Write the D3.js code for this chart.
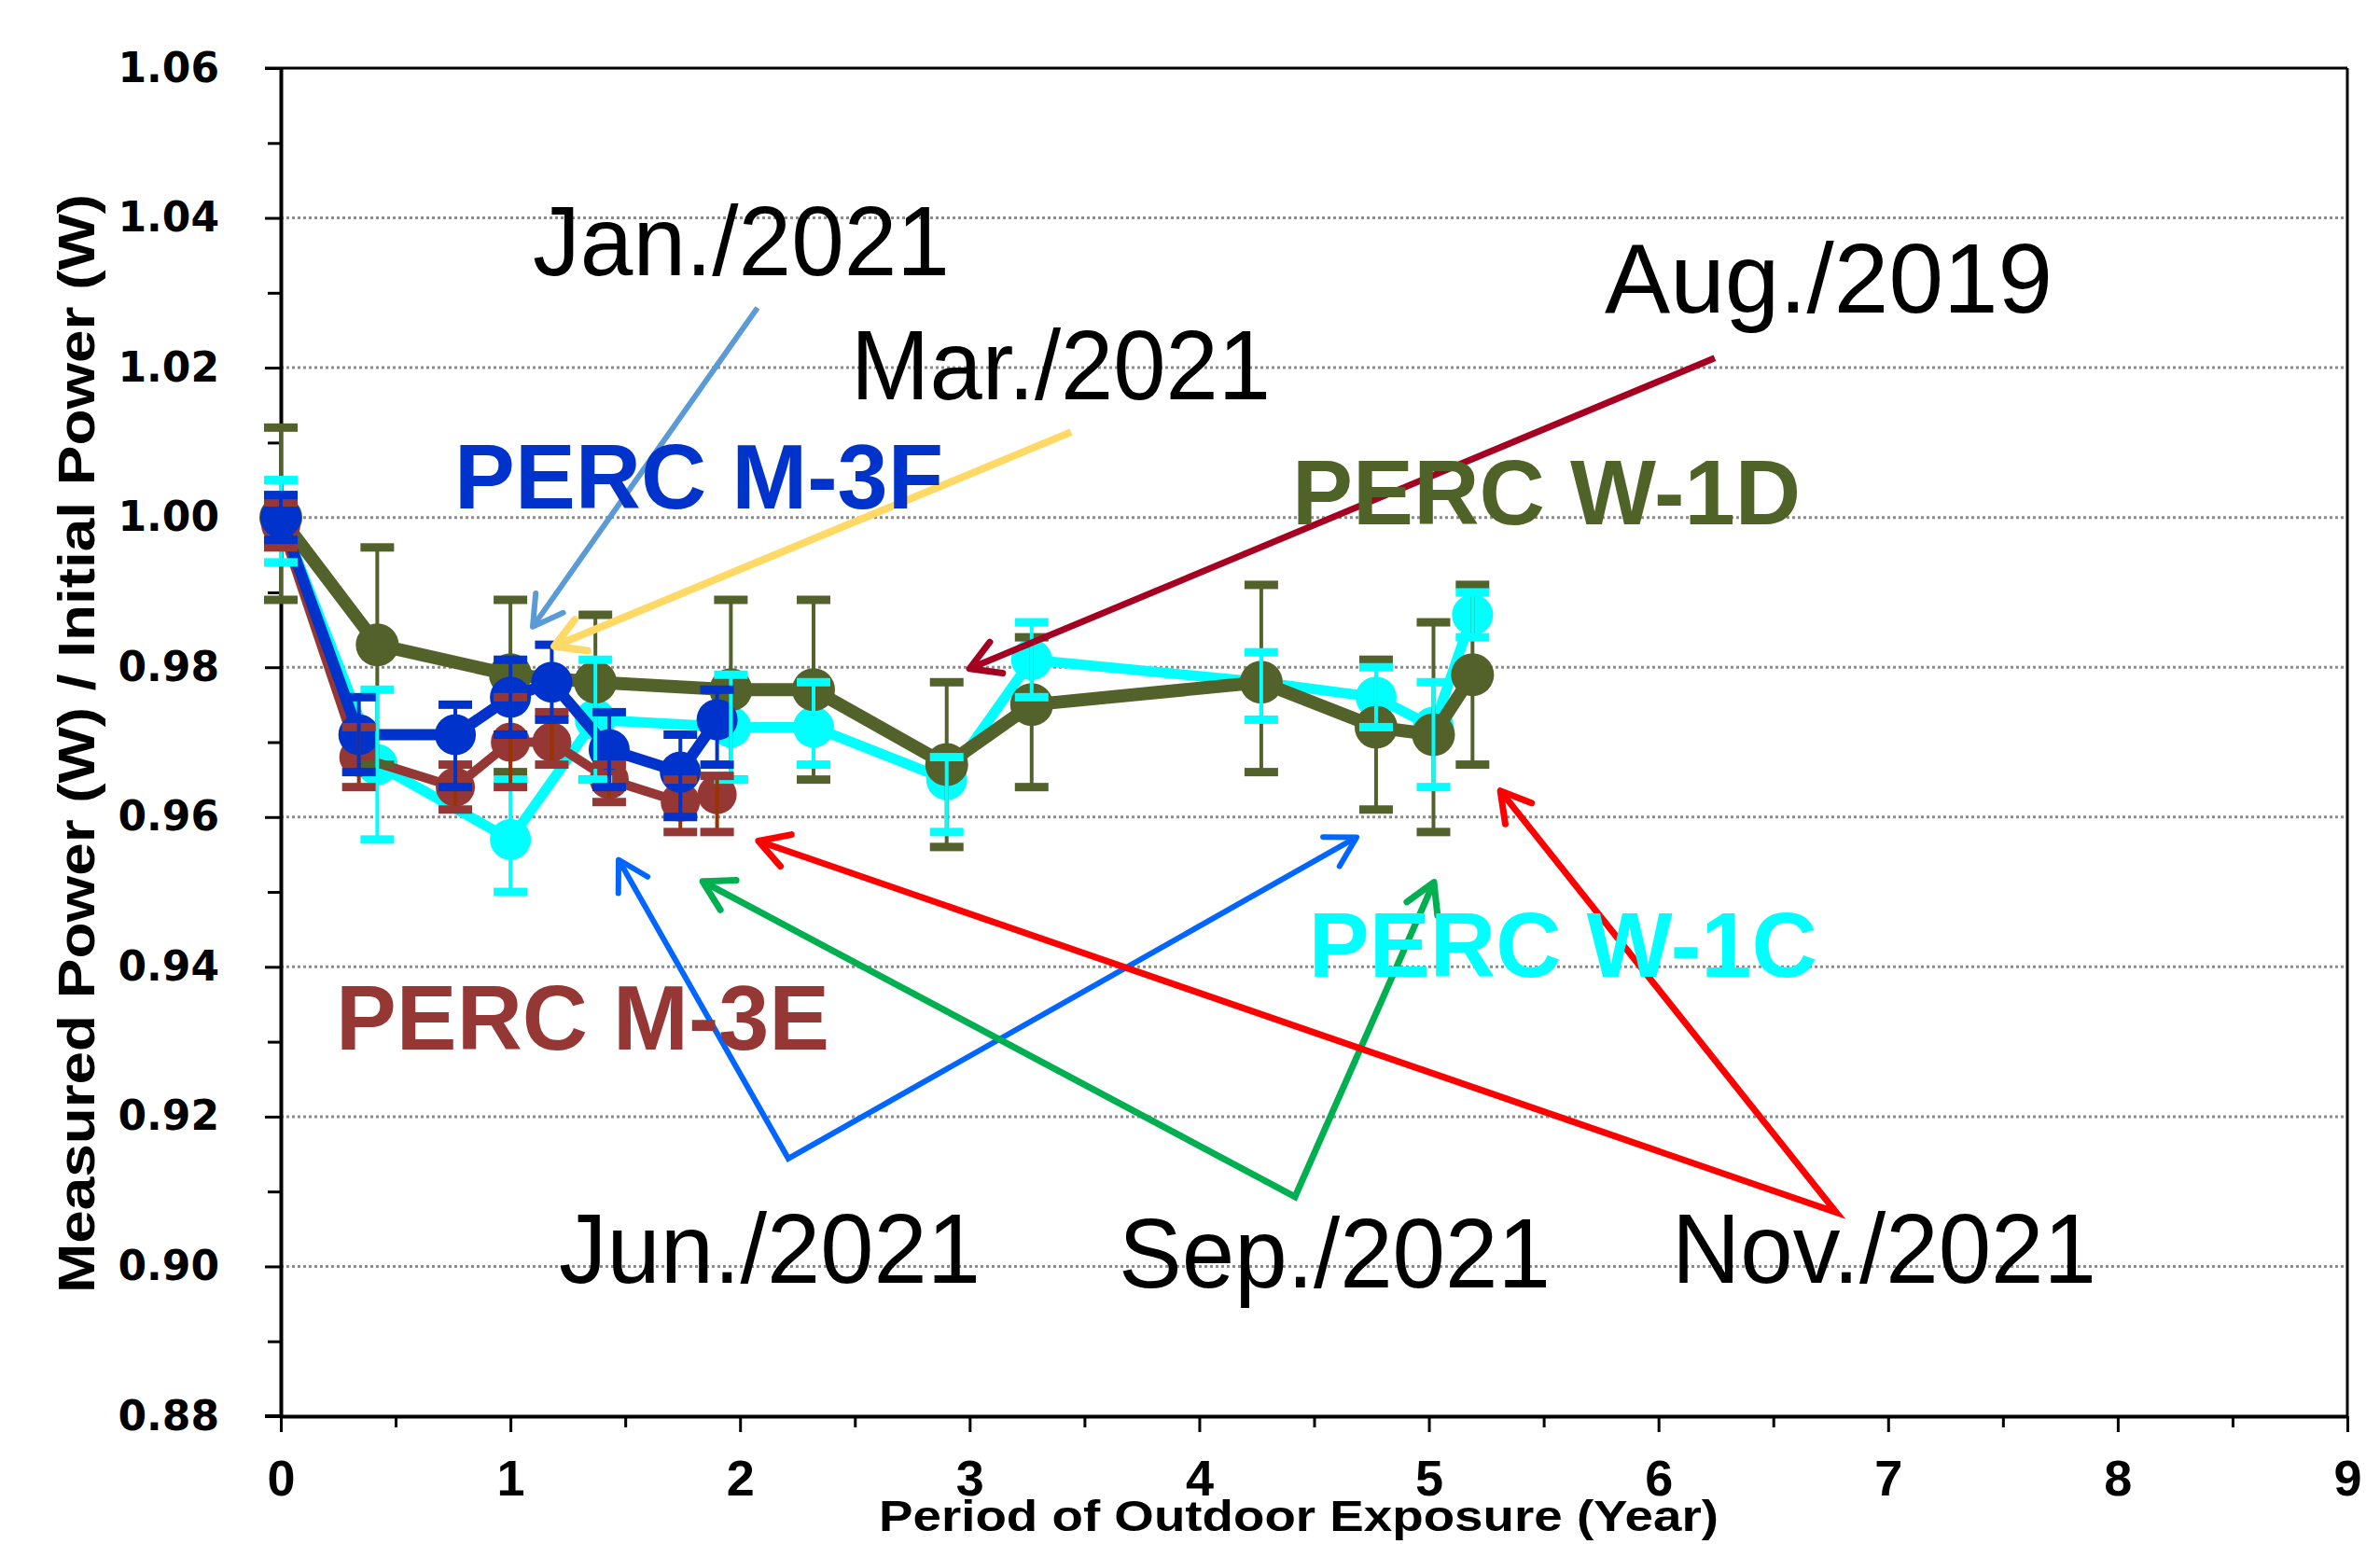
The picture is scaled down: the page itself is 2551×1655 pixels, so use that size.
<!DOCTYPE html>
<html>
<head>
<meta charset="utf-8">
<script src="https://cdn.jsdelivr.net/npm/d3@7"></script>
<style>
  body { margin: 0; background: #fff; }
  svg { display: block; }
</style>
</head>
<body>
<svg class="chart"></svg>
<script>
// exposure time in years
var xW = [0, 0.42, 1.0, 1.37, 1.96, 2.32, 2.9, 3.27, 4.27, 4.77, 5.02, 5.19];
var xM = [0, 0.34, 0.76, 1.0, 1.18, 1.43, 1.74, 1.90];

// PERC W-1D (olive)
var w1d   = [1.000, 0.983, 0.979, 0.978, 0.977, 0.977, 0.967, 0.975, 0.978, 0.972, 0.971, 0.979];
var w1dUp = [0.012, 0.013, 0.010, 0.009, 0.012, 0.012, 0.011, 0.009, 0.013, 0.009, 0.015, 0.012];
var w1dDn = [0.011, 0.016, 0.013, 0.013, 0.012, 0.012, 0.011, 0.011, 0.012, 0.011, 0.013, 0.012];

// PERC W-1C (cyan)
var w1c   = [1.000, 0.967, 0.957, 0.973, 0.972, 0.972, 0.965, 0.981, 0.978, 0.976, 0.972, 0.987];
var w1cUp = [0.005, 0.010, 0.008, 0.008, 0.007, 0.006, 0.003, 0.005, 0.004, 0.004, 0.006, 0.003];
var w1cDn = [0.006, 0.010, 0.007, 0.008, 0.007, 0.005, 0.007, 0.005, 0.005, 0.004, 0.008, 0.003];

// PERC M-3F (blue)
var m3f   = [1.000, 0.971, 0.971, 0.976, 0.978, 0.969, 0.966, 0.973];
var m3fUp = [0.003, 0.005, 0.004, 0.005, 0.005, 0.005, 0.005, 0.004];
var m3fDn = [0.003, 0.005, 0.007, 0.005, 0.005, 0.005, 0.006, 0.006];

// PERC M-3E (brown)
var m3e   = [0.999, 0.968, 0.964, 0.970, 0.970, 0.965, 0.962, 0.963];
var m3eUp = [0.003, 0.004, 0.003, 0.006, 0.004, 0.002, 0.003, 0.0025];
var m3eDn = [0.003, 0.004, 0.003, 0.006, 0.003, 0.003, 0.004, 0.005];

var yTicks = [0.88, 0.90, 0.92, 0.94, 0.96, 0.98, 1.00, 1.02, 1.04, 1.06];
var yMinor = [0.89, 0.91, 0.93, 0.95, 0.97, 0.99, 1.01, 1.03, 1.05];
var xTicks = [0, 1, 2, 3, 4, 5, 6, 7, 8, 9];
var xMinor = [0.5, 1.5, 2.5, 3.5, 4.5, 5.5, 6.5, 7.5, 8.5];

var series = {
  w1c: { x: xW, y: w1c, up: w1cUp, dn: w1cDn, color: '#00FFFF', bar: '#00FFFF', lw: 11, r: 22 },
  w1d: { x: xW, y: w1d, up: w1dUp, dn: w1dDn, color: '#53612A', bar: '#53612A', lw: 14, r: 23 },
  m3e: { x: xM, y: m3e, up: m3eUp, dn: m3eDn, color: '#953735', bar: '#993300', cap: '#953735', lw: 10, r: 21 },
  m3f: { x: xM, y: m3f, up: m3fUp, dn: m3fDn, color: '#0033CC', bar: '#0033CC', lw: 12, r: 22 }
};

var margin = {top: 73, right: 35, bottom: 137, left: 301}
  , W = 2551, H = 1655
  , width = W - margin.left - margin.right
  , height = H - margin.top - margin.bottom;

var x = d3.scaleLinear().domain([0, 9]).range([0, width]);
var y = d3.scaleLinear().domain([0.88, 1.06]).range([height, 0]);

var chart = d3.select('.chart').attr('width', W).attr('height', H);
chart.append('rect').attr('width', W).attr('height', H).attr('fill', '#fff');

var main = chart.append('g')
  .attr('transform', 'translate(' + margin.left + ',' + margin.top + ')');

// dotted grid
main.selectAll('.grid')
  .data(yTicks.filter(function (d) { return d > 0.89 && d < 1.05; }))
  .enter().append('line')
  .attr('x1', 0).attr('x2', width)
  .attr('y1', function (d) { return y(d); })
  .attr('y2', function (d) { return y(d); })
  .attr('stroke', '#8c8c8c')
  .attr('stroke-width', 3)
  .attr('stroke-dasharray', '3,3');

// frame top + right
main.append('line').attr('x1', -17).attr('x2', width).attr('y1', 0).attr('y2', 0)
  .attr('stroke', '#000').attr('stroke-width', 3);
main.append('line').attr('x1', width).attr('x2', width).attr('y1', 0).attr('y2', height)
  .attr('stroke', '#000').attr('stroke-width', 3);

// axes
var yAxis = d3.axisLeft(y).tickValues(yTicks).tickSize(17).tickSizeOuter(0)
  .tickPadding(49).tickFormat(d3.format('.2f'));
var gy = main.append('g').call(yAxis);
gy.selectAll('text').attr('font-family', '"DejaVu Sans", sans-serif')
  .attr('font-weight', 'bold').attr('font-size', 44).attr('fill', '#000');

main.append('g').call(d3.axisLeft(y).tickValues(yMinor).tickSize(14).tickFormat(''))
  .select('.domain').remove();

var xAxis = d3.axisBottom(x).tickValues(xTicks).tickSize(17).tickSizeOuter(0).tickPadding(30);
var gx = main.append('g').attr('transform', 'translate(0,' + height + ')').call(xAxis);
gx.selectAll('text').attr('font-family', '"Liberation Sans", Arial, sans-serif')
  .attr('font-weight', 'bold').attr('font-size', 54).attr('fill', '#000');

main.append('g').attr('transform', 'translate(0,' + height + ')')
  .call(d3.axisBottom(x).tickValues(xMinor).tickSize(12).tickFormat(''))
  .select('.domain').remove();

main.append('line').attr('x1', -17).attr('x2', 0).attr('y1', height).attr('y2', height)
  .attr('stroke', '#000').attr('stroke-width', 4);

main.selectAll('.domain').attr('stroke', '#000').attr('stroke-width', 4);
main.selectAll('.tick line').attr('stroke', '#000').attr('stroke-width', 3);

// axis titles
chart.append('text')
  .attr('transform', 'translate(101,797) rotate(-90)')
  .attr('text-anchor', 'middle')
  .attr('font-family', '"Liberation Sans Narrow", "Liberation Sans", Arial, sans-serif')
  .attr('font-weight', 'bold').attr('font-size', 56)
  .attr('textLength', 1178).attr('lengthAdjust', 'spacingAndGlyphs')
  .text('Measured Power (W) / Initial Power (W)');

chart.append('text')
  .attr('x', 1392).attr('y', 1641)
  .attr('text-anchor', 'middle')
  .attr('font-family', '"Liberation Sans Narrow", "Liberation Sans", Arial, sans-serif')
  .attr('font-weight', 'bold').attr('font-size', 46)
  .attr('textLength', 900).attr('lengthAdjust', 'spacingAndGlyphs')
  .text('Period of Outdoor Exposure (Year)');

// lines and markers
var line = d3.line()
  .x(function (d) { return x(d[0]); })
  .y(function (d) { return y(d[1]); });

['w1c', 'w1d', 'm3e', 'm3f'].forEach(function (k) {
  var s = series[k];
  var pts = s.x.map(function (v, i) { return [v, s.y[i]]; });
  var g = main.append('g');
  g.append('path').datum(pts)
    .attr('d', line)
    .attr('fill', 'none')
    .attr('stroke', s.color)
    .attr('stroke-width', s.lw)
    .attr('stroke-linejoin', 'round');
  g.selectAll('circle').data(pts).enter().append('circle')
    .attr('cx', function (d) { return x(d[0]); })
    .attr('cy', function (d) { return y(d[1]); })
    .attr('r', s.r)
    .attr('fill', s.color);
});

// error bars on top
['w1d', 'w1c', 'm3e', 'm3f'].forEach(function (k) {
  var s = series[k];
  var g = main.append('g');
  s.x.forEach(function (v, i) {
    var cx = x(v), hi = y(s.y[i] + s.up[i]), lo = y(s.y[i] - s.dn[i]);
    g.append('line').attr('x1', cx).attr('x2', cx).attr('y1', hi).attr('y2', lo)
      .attr('stroke', s.bar).attr('stroke-width', 4);
    [hi, lo].forEach(function (yy) {
      g.append('rect').attr('x', cx - 18).attr('y', yy - 4.5)
        .attr('width', 36).attr('height', 9)
        .attr('fill', s.cap || s.bar);
    });
  });
});

// annotations (positions in data units)
var labels = [
  { t: 'Jan./2021', x: 1.097, y: 1.0324, c: '#000', b: false, len: 447 },
  { t: 'Mar./2021', x: 2.483, y: 1.0158, c: '#000', b: false, len: 450 },
  { t: 'Aug./2019', x: 5.766, y: 1.0274, c: '#000', b: false, len: 480 },
  { t: 'Jun./2021', x: 1.211, y: 0.8978, c: '#000', b: false, len: 452 },
  { t: 'Sep./2021', x: 3.649, y: 0.8972, c: '#000', b: false, len: 463 },
  { t: 'Nov./2021', x: 6.058, y: 0.8978, c: '#000', b: false, len: 455 },
  { t: 'PERC M-3F', x: 0.756, y: 1.0012, c: '#0033CC', b: true, len: 524 },
  { t: 'PERC W-1D', x: 4.405, y: 0.9991, c: '#4F6228', b: true, len: 545 },
  { t: 'PERC M-3E', x: 0.240, y: 0.9290, c: '#953735', b: true, len: 529 },
  { t: 'PERC W-1C', x: 4.477, y: 0.9387, c: '#00FFFF', b: true, len: 545 }
];

var arrows = [
  { c: '#5B9BD5', w: 6, pts: [[2.076, 1.0280], [1.097, 0.9854]], heads: [1] },
  { c: '#FFD966', w: 8, pts: [[3.442, 1.0114], [1.191, 0.9828]], heads: [1] },
  { c: '#A50021', w: 7, pts: [[6.245, 1.0213], [2.999, 0.9798]], heads: [1] },
  { c: '#0066FF', w: 6, pts: [[1.471, 0.9543], [2.210, 0.9144], [4.685, 0.9573]], heads: [0, 2] },
  { c: '#00B050', w: 7, pts: [[1.837, 0.9514], [4.417, 0.9093], [5.022, 0.9513]], heads: [0, 2] },
  { c: '#FF0000', w: 7, pts: [[2.080, 0.9568], [6.774, 0.9072], [5.311, 0.9635]], heads: [0, 2] }
];

var ann = main.append('g');

arrows.forEach(function (a) {
  var p = a.pts.map(function (d) { return [x(d[0]), y(d[1])]; });
  ann.append('path')
    .attr('d', d3.line()(p))
    .attr('fill', 'none').attr('stroke', a.c).attr('stroke-width', a.w)
    .attr('stroke-linejoin', 'miter');
  a.heads.forEach(function (hIdx) {
    var tip = p[hIdx], prev = p[hIdx === 0 ? 1 : hIdx - 1];
    var ang = Math.atan2(prev[1] - tip[1], prev[0] - tip[0]);
    var L = 36, da = Math.PI / 6;
    var l1 = [tip[0] + L * Math.cos(ang - da), tip[1] + L * Math.sin(ang - da)];
    var l2 = [tip[0] + L * Math.cos(ang + da), tip[1] + L * Math.sin(ang + da)];
    ann.append('path')
      .attr('d', 'M' + l1 + 'L' + tip + 'L' + l2)
      .attr('fill', 'none').attr('stroke', a.c).attr('stroke-width', a.w)
      .attr('stroke-linecap', 'round').attr('stroke-linejoin', 'round');
  });
});

ann.selectAll('.lab').data(labels).enter().append('text')
  .attr('x', function (d) { return x(d.x); })
  .attr('y', function (d) { return y(d.y); })
  .attr('fill', function (d) { return d.c; })
  .attr('font-family', '"Liberation Sans", Arial, sans-serif')
  .attr('font-weight', function (d) { return d.b ? 'bold' : 'normal'; })
  .attr('font-size', function (d) { return d.b ? 98 : 106; })
  .attr('textLength', function (d) { return d.len; })
  .attr('lengthAdjust', 'spacingAndGlyphs')
  .text(function (d) { return d.t; });
</script>
</body>
</html>
